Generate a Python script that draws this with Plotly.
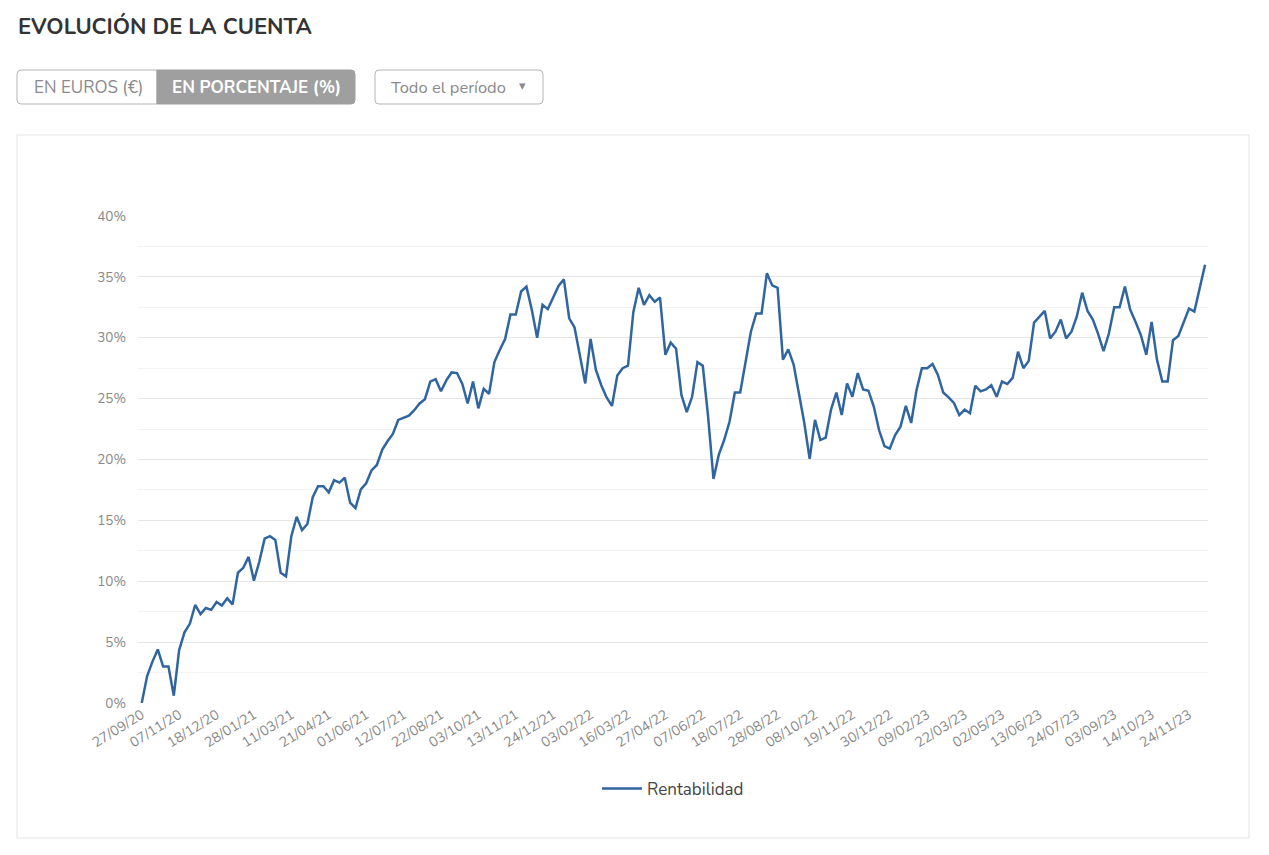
import plotly.graph_objects as go

PAGE_W, PAGE_H = 1269, 855
BODY = 8  # default page margin around the figure
W, H = PAGE_W - 2 * BODY, PAGE_H - 2 * BODY

# ---- data -------------------------------------------------------------
rentabilidad = [
    0.0, 2.2, 3.4, 4.4, 3.0, 3.0, 0.6, 4.35, 5.8, 6.5,
    8.05, 7.3, 7.8, 7.65, 8.3, 8.0, 8.6, 8.1, 10.7, 11.1,
    12.0, 10.05, 11.6, 13.5, 13.7, 13.4, 10.7, 10.4, 13.7, 15.3,
    14.2, 14.7, 16.9, 17.8, 17.8, 17.3, 18.3, 18.1, 18.5, 16.45,
    16.0, 17.55, 18.05, 19.1, 19.55, 20.8, 21.5, 22.1, 23.25, 23.45,
    23.6, 24.05, 24.6, 24.95, 26.4, 26.6, 25.6, 26.5, 27.15, 27.1,
    26.2, 24.6, 26.4, 24.2, 25.8, 25.4, 28.0, 29.0, 29.9, 31.9,
    31.9, 33.8, 34.2, 32.3, 30.0, 32.7, 32.35, 33.3, 34.25, 34.8,
    31.6, 30.85, 28.6, 26.25, 29.9, 27.35, 26.1, 25.1, 24.4, 26.9,
    27.5, 27.7, 32.1, 34.1, 32.7, 33.5, 32.95, 33.3, 28.6, 29.6,
    29.1, 25.3, 23.9, 25.15, 28.0, 27.7, 23.5, 18.4, 20.4, 21.6,
    23.1, 25.5, 25.5, 27.9, 30.5, 32.0, 32.0, 35.3, 34.3, 34.1,
    28.2, 29.05, 27.8, 25.4, 23.0, 20.05, 23.25, 21.6, 21.8, 24.1,
    25.5, 23.65, 26.25, 25.15, 27.1, 25.75, 25.65, 24.35, 22.4, 21.1,
    20.9, 22.0, 22.7, 24.4, 23.0, 25.7, 27.5, 27.5, 27.85, 26.95,
    25.5, 25.1, 24.65, 23.65, 24.1, 23.8, 26.05, 25.6, 25.75, 26.1,
    25.15, 26.4, 26.2, 26.7, 28.85, 27.5, 28.1, 31.25, 31.75, 32.2,
    29.95, 30.5, 31.5, 29.95, 30.5, 31.75, 33.7, 32.2, 31.5, 30.3,
    28.9, 30.35, 32.5, 32.5, 34.2, 32.3, 31.3, 30.2, 28.6, 31.3,
    28.2, 26.4, 26.4, 29.8, 30.15, 31.25, 32.4, 32.15, 34.2, 36.0,
]
point_index = list(range(len(rentabilidad)))

tick_labels = [
    "27/09/20", "07/11/20", "18/12/20", "28/01/21", "11/03/21", "21/04/21",
    "01/06/21", "12/07/21", "22/08/21", "03/10/21", "13/11/21", "24/12/21",
    "03/02/22", "16/03/22", "27/04/22", "07/06/22", "18/07/22", "28/08/22",
    "08/10/22", "19/11/22", "30/12/22", "09/02/23", "22/03/23", "02/05/23",
    "13/06/23", "24/07/23", "03/09/23", "14/10/23", "24/11/23",
]
label_step = 7
tick_positions = [k * label_step for k in range(len(tick_labels))]

y_ticks = [0, 5, 10, 15, 20, 25, 30, 35, 40]
y_tick_text = [f"{v}%" for v in y_ticks]

FONT = "Nunito, Lato, 'Open Sans', sans-serif"
LINE = "#30659f"

# ---- figure -----------------------------------------------------------
fig = go.Figure()
fig.add_trace(go.Scatter(
    x=point_index, y=rentabilidad, mode="lines", name="Rentabilidad",
    line=dict(color=LINE, width=2.5),
))

def px(x):
    return (x - BODY) / W

def py(y):
    return 1 - (y - BODY) / H

def rounded_path(x0, y0, x1, y1, r, left=True, right=True):
    """SVG path (paper coords) of a rectangle given in page pixels."""
    rl = r if left else 0
    rr = r if right else 0
    pts = []
    pts.append(f"M{px(x0 + rl)},{py(y0)}")
    pts.append(f"L{px(x1 - rr)},{py(y0)}")
    if rr:
        pts.append(f"Q{px(x1)},{py(y0)} {px(x1)},{py(y0 + rr)}")
    pts.append(f"L{px(x1)},{py(y1 - rr)}")
    if rr:
        pts.append(f"Q{px(x1)},{py(y1)} {px(x1 - rr)},{py(y1)}")
    pts.append(f"L{px(x0 + rl)},{py(y1)}")
    if rl:
        pts.append(f"Q{px(x0)},{py(y1)} {px(x0)},{py(y1 - rl)}")
    pts.append(f"L{px(x0)},{py(y0 + rl)}")
    if rl:
        pts.append(f"Q{px(x0)},{py(y0)} {px(x0 + rl)},{py(y0)}")
    pts.append("Z")
    return " ".join(pts)

plot_l, plot_r, plot_t, plot_b = 138, 1208, 216, 703

shapes = [
    dict(type="rect", xref="paper", yref="paper", x0=px(17), x1=px(1249),
         y0=py(838), y1=py(135), line=dict(color="#e3e3e3", width=1),
         fillcolor="rgba(0,0,0,0)", layer="below"),
    dict(type="path", xref="paper", yref="paper",
         path=rounded_path(17, 70, 157, 104, 4, left=True, right=False),
         line=dict(color="#b5b5b5", width=1), fillcolor="white"),
    dict(type="path", xref="paper", yref="paper",
         path=rounded_path(157, 70, 355, 104, 4, left=False, right=True),
         line=dict(color="#9f9f9f", width=1), fillcolor="#9f9f9f"),
    dict(type="path", xref="paper", yref="paper",
         path=rounded_path(375, 70, 543, 104, 4),
         line=dict(color="#b5b5b5", width=1), fillcolor="white"),
]

annotations = [
    dict(text="<b>EVOLUCIÓN DE LA CUENTA</b>", xref="paper", yref="paper",
         x=px(16), y=py(27), xanchor="left", yanchor="middle", showarrow=False,
         font=dict(family=FONT, size=22, color="#333333")),
    dict(text="EN EUROS (€)", xref="paper", yref="paper",
         x=px(88), y=py(87), xanchor="center", yanchor="middle", showarrow=False,
         font=dict(family=FONT, size=17, color="#8a8a8a")),
    dict(text="<b>EN PORCENTAJE (%)</b>", xref="paper", yref="paper",
         x=px(256), y=py(87), xanchor="center", yanchor="middle", showarrow=False,
         font=dict(family=FONT, size=17, color="#ffffff")),
    dict(text="Todo el período", xref="paper", yref="paper",
         x=px(388), y=py(87), xanchor="left", yanchor="middle", showarrow=False,
         font=dict(family=FONT, size=16.5, color="#8a8a8a")),
    dict(text="▾", xref="paper", yref="paper",
         x=px(522), y=py(86), xanchor="center", yanchor="middle", showarrow=False,
         font=dict(family=FONT, size=13, color="#8a8a8a")),
]

fig.update_layout(
    width=W, height=H,
    margin=dict(l=0, r=0, t=0, b=0, pad=0, autoexpand=False),
    paper_bgcolor="white", plot_bgcolor="white",
    font=dict(family=FONT, color="#888888"),
    shapes=shapes, annotations=annotations,
    showlegend=True,
    legend=dict(orientation="h", x=px(673), y=py(789), xanchor="center",
                yanchor="middle", font=dict(family=FONT, size=17, color="#444444"),
                itemwidth=40, bgcolor="rgba(0,0,0,0)"),
    xaxis=dict(
        domain=[px(plot_l), px(plot_r)],
        range=[-0.7, len(rentabilidad) - 1 + 0.55],
        tickmode="array", tickvals=tick_positions, ticktext=tick_labels,
        tickangle=-32, showgrid=False, zeroline=False, showline=False,
        ticks="", automargin=False,
        tickfont=dict(family=FONT, size=14, color="#888888"),
        fixedrange=True,
    ),
    yaxis=dict(
        domain=[py(plot_b), py(plot_t)],
        range=[0, 40],
        tickmode="array", tickvals=y_ticks, ticktext=y_tick_text,
        showgrid=True, gridcolor="#e6e6e6", gridwidth=1,
        zeroline=False, showline=False, ticks="", automargin=False,
        tickfont=dict(family=FONT, size=13.5, color="#888888"),
        minor=dict(dtick=2.5, showgrid=True, gridcolor="#f3f3f3", gridwidth=1),
        ticklabelstandoff=11,
        fixedrange=True,
    ),
)

fig.write_html("out.html", config={"displayModeBar": False})
